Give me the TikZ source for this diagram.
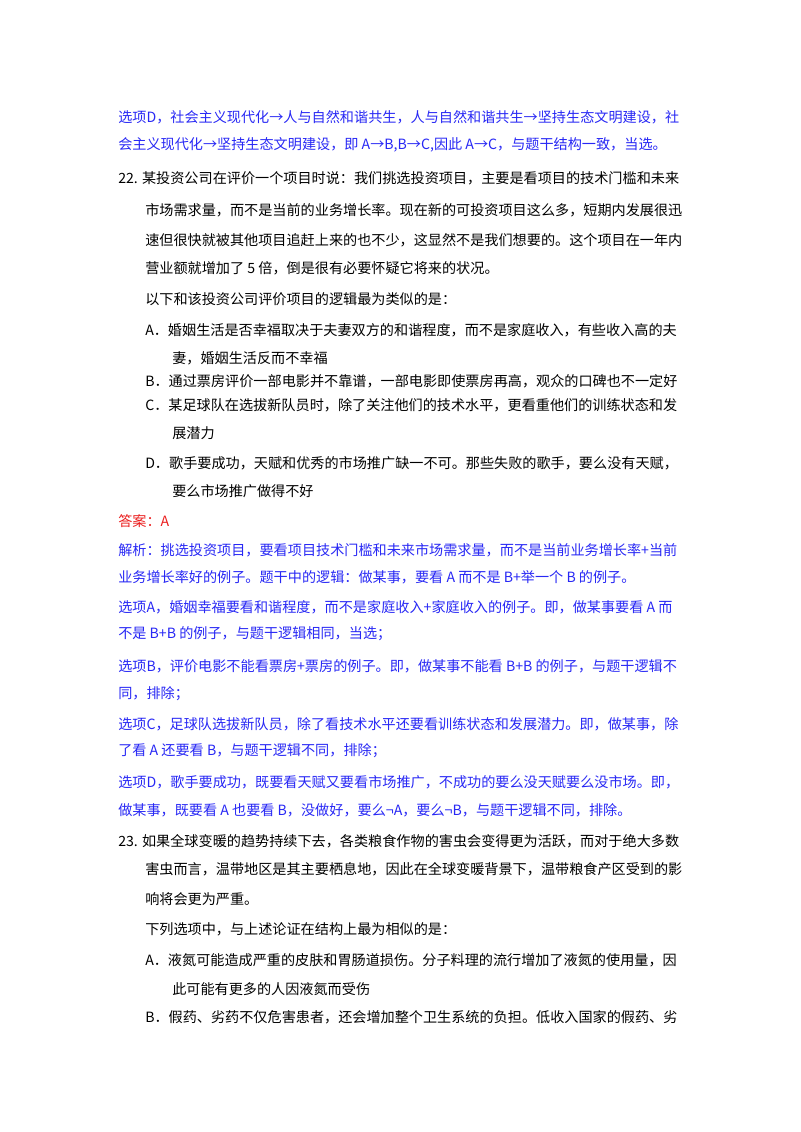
\documentclass[tikz,border=0pt]{standalone}
\usepackage{fontspec}
\setmainfont{Noto Sans CJK SC}
\definecolor{ablue}{RGB}{40,40,245}
\definecolor{ared}{RGB}{235,30,30}
\begin{document}
\begin{tikzpicture}[x=0.75pt,y=-0.75pt,
  ln/.style={anchor=west,inner sep=0pt,font=\fontsize{10.6pt}{12pt}\selectfont},
  bl/.style={ln,text=ablue},
  rd/.style={ln,text=ared}]
\useasboundingbox[fill=white] (0,0) rectangle (800,1132);
\node[bl] (l1) at (118,117) {选项D，社会主义现代化→人与自然和谐共生，人与自然和谐共生→坚持生态文明建设，社};
\node[bl] (l2) at (118,145) {会主义现代化→坚持生态文明建设，即 A→B,B→C,因此 A→C，与题干结构一致，当选。};
\node[ln] (l3) at (118,178) {22. 某投资公司在评价一个项目时说：我们挑选投资项目，主要是看项目的技术门槛和未来};
\node[ln] (l4) at (145,210) {市场需求量，而不是当前的业务增长率。现在新的可投资项目这么多，短期内发展很迅};
\node[ln] (l5) at (145,240) {速但很快就被其他项目追赶上来的也不少，这显然不是我们想要的。这个项目在一年内};
\node[ln] (l6) at (145,268) {营业额就增加了 5 倍，倒是很有必要怀疑它将来的状况。};
\node[ln] (l7) at (145,299) {以下和该投资公司评价项目的逻辑最为类似的是：};
\node[ln] (l8) at (145,330) {A．婚姻生活是否幸福取决于夫妻双方的和谐程度，而不是家庭收入，有些收入高的夫};
\node[ln] (l9) at (172,358) {妻，婚姻生活反而不幸福};
\node[ln] (l10) at (145,381) {B．通过票房评价一部电影并不靠谱，一部电影即使票房再高，观众的口碑也不一定好};
\node[ln] (l11) at (145,405) {C．某足球队在选拔新队员时，除了关注他们的技术水平，更看重他们的训练状态和发};
\node[ln] (l12) at (172,433) {展潜力};
\node[ln] (l13) at (145,463) {D．歌手要成功，天赋和优秀的市场推广缺一不可。那些失败的歌手，要么没有天赋，};
\node[ln] (l14) at (172,491) {要么市场推广做得不好};
\node[rd] (l15) at (118,521) {答案：A};
\node[bl] (l16) at (118,550) {解析：挑选投资项目，要看项目技术门槛和未来市场需求量，而不是当前业务增长率+当前};
\node[bl] (l17) at (118,577) {业务增长率好的例子。题干中的逻辑：做某事，要看 A 而不是 B+举一个 B 的例子。};
\node[bl] (l18) at (118,607) {选项A，婚姻幸福要看和谐程度，而不是家庭收入+家庭收入的例子。即，做某事要看 A 而};
\node[bl] (l19) at (118,634) {不是 B+B 的例子，与题干逻辑相同，当选；};
\node[bl] (l20) at (118,666) {选项B，评价电影不能看票房+票房的例子。即，做某事不能看 B+B 的例子，与题干逻辑不};
\node[bl] (l21) at (118,694) {同，排除；};
\node[bl] (l22) at (118,724) {选项C，足球队选拔新队员，除了看技术水平还要看训练状态和发展潜力。即，做某事，除};
\node[bl] (l23) at (118,751) {了看 A 还要看 B，与题干逻辑不同，排除；};
\node[bl] (l24) at (118,782) {选项D，歌手要成功，既要看天赋又要看市场推广，不成功的要么没天赋要么没市场。即，};
\node[bl] (l25) at (118,810) {做某事，既要看 A 也要看 B，没做好，要么¬A，要么¬B，与题干逻辑不同，排除。};
\node[ln] (l26) at (118,841) {23. 如果全球变暖的趋势持续下去，各类粮食作物的害虫会变得更为活跃，而对于绝大多数};
\node[ln] (l27) at (145,869) {害虫而言，温带地区是其主要栖息地，因此在全球变暖背景下，温带粮食产区受到的影};
\node[ln] (l28) at (145,899) {响将会更为严重。};
\node[ln] (l29) at (145,929) {下列选项中，与上述论证在结构上最为相似的是：};
\node[ln] (l30) at (145,960) {A．液氮可能造成严重的皮肤和胃肠道损伤。分子料理的流行增加了液氮的使用量，因};
\node[ln] (l31) at (172,989) {此可能有更多的人因液氮而受伤};
\node[ln] (l32) at (145,1017) {B．假药、劣药不仅危害患者，还会增加整个卫生系统的负担。低收入国家的假药、劣};
\end{tikzpicture}
\end{document}
